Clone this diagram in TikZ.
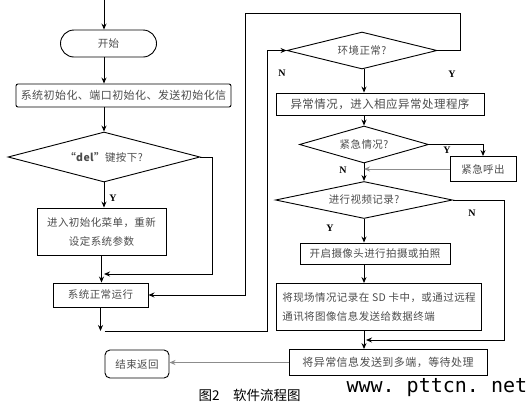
\documentclass[tikz,border=0pt]{standalone}
\usepackage{fontspec}
\setmainfont{Liberation Serif}
\newfontfamily\cjk[LetterSpace=4]{Noto Sans CJK SC}
\newfontfamily\cjkcap{Noto Sans CJK SC}
\newfontfamily\wmark{DejaVu Sans Mono}
\usepackage{tikz}
\usetikzlibrary{shapes.geometric, arrows.meta, positioning, calc}

\begin{document}
\frenchspacing
\begin{tikzpicture}[
    x=1pt, y=-1pt,
    txt/.style={font=\cjk\fontsize{10.5}{19}\selectfont, text=black!70},
    box/.style={txt, draw, rectangle, line width=0.9pt, inner sep=0pt, align=center},
    decision/.style={txt, draw, diamond, aspect=4, line width=0.9pt, inner sep=0pt},
    lbl/.style={font=\bfseries\fontsize{10}{10}\selectfont, text=black},
    arrow/.style={-{Stealth[length=6pt, width=5pt]}, line width=1pt},
    grayarrow/.style={arrow, draw=black!45},
    line/.style={line width=1pt}
]
\useasboundingbox (0,0) rectangle (526,402);

% left column
\coordinate (top) at (104,0);
\node[box, rounded corners=13.5pt, minimum width=96pt, minimum height=27pt] (start) at (108.5,43.5) {开始};
\node[box, rounded corners=2pt, minimum width=215pt, minimum height=23pt, font=\cjk\fontsize{11}{19}\selectfont] (init) at (123.5,95.5) {系统初始化、端口初始化、发送初始化信};
\node[decision, minimum width=192pt, minimum height=50pt] (del) at (104,157) {\textbf{“del”}键按下?};
\node[box, minimum width=129pt, minimum height=47pt] (menu) at (101.5,231.5) {进入初始化菜单，重新\\设定系统参数};
\node[box, minimum width=95pt, minimum height=24pt] (run) at (100.5,295) {系统正常运行};
\node[box, rounded corners=5pt, minimum width=64pt, minimum height=28pt] (end) at (137,364) {结束返回};

% right column
\node[decision, minimum width=150pt, minimum height=37pt] (env) at (362,50.5) {环境正常?};
\node[box, minimum width=208pt, minimum height=22pt, font=\cjk\fontsize{11.5}{19}\selectfont] (abn) at (380,104) {异常情况，进入相应异常处理程序};
\node[decision, minimum width=129pt, minimum height=37pt] (urg) at (364,144.5) {紧急情况?};
\node[box, minimum width=66pt, minimum height=25pt] (call) at (483,169) {紧急呼出};
\node[decision, minimum width=177pt, minimum height=37pt] (video) at (364,200) {进行视频记录?};
\node[box, minimum width=150pt, minimum height=21pt] (cam) at (375,253.5) {开启摄像头进行拍摄或拍照};
\node[box, minimum width=205pt, minimum height=47pt, align=left] (rec) at (379,307) {将现场情况记录在 SD 卡中，或通过远程\\通讯将图像信息发送给数据终端};
\node[box, minimum width=198pt, minimum height=26pt, font=\cjk\fontsize{11}{19}\selectfont] (send) at (388,362.5) {将异常信息发送到多端，等待处理};

% Y / N
\node[lbl] (y1) at (113,198) {Y};
\node[lbl] (n1) at (282,73) {N};
\node[lbl] (y2) at (452,74) {Y};
\node[lbl] (y3) at (447,150) {Y};
\node[lbl] (n2) at (343,170) {N};
\node[lbl] (n3) at (472,213) {N};
\node[lbl] (y4) at (330,228) {Y};

% junctions
\coordinate (j1) at (104,274);
\coordinate (j2) at (100.5,331);
\coordinate (c2) at (267,50.5);
\coordinate (c4) at (245,295);
\coordinate (c5) at (245,13);
\coordinate (j3) at (366,340);

% left flow
\draw[arrow] (top) -- (top |- start.north);
\draw[arrow] (start.south -| top) -- (init.north -| top);
\draw[arrow] (init.south -| top) -- (del.north);
\draw[arrow] (del.south) -- (del.south |- menu.north);
\draw[arrow] (del.east) -- ++(12,0) |- (j1);
\draw[arrow] (menu.south) -- (menu.south |- run.north);
\draw[arrow] (run.south) -- (j2);
\draw[arrow] ([xshift=4pt]j2) -| (c2) -- (env.west);
\draw[arrow] (env.east) -- ++(23,0) |- (c5) -- (c4) -- (run.east);

% right flow
\draw[arrow] (env.south -| urg.north) -- (urg.north |- abn.north);
\draw[arrow] (abn.south -| urg.north) -- (urg.north);
\draw[arrow] (urg.east) -| (call.north);
\draw[arrow] (urg.south) -- (video.north);
\draw[grayarrow] (call.west) -- (call.west -| urg.south);
\draw[arrow] (video.south) -- (video.south |- cam.north);
\draw[arrow] (cam.south -| video.south) -- (rec.north -| video.south);
\draw[arrow] (rec.south -| video.south) -- (send.north -| video.south);
\draw[arrow] (video.east) -- ++(52,0) |- (j3);
\draw[grayarrow] (send.west) -- (send.west -| end.east);

% caption
\node[anchor=base west, font=\cjkcap\fontsize{13.5}{14}\selectfont] (cap) at (195,400) {图2\quad 软件流程图};
\node[anchor=base west, font=\wmark\fontsize{20}{20}\selectfont] (wm) at (343,392) {www. pttcn. net};

\end{tikzpicture}
\end{document}
